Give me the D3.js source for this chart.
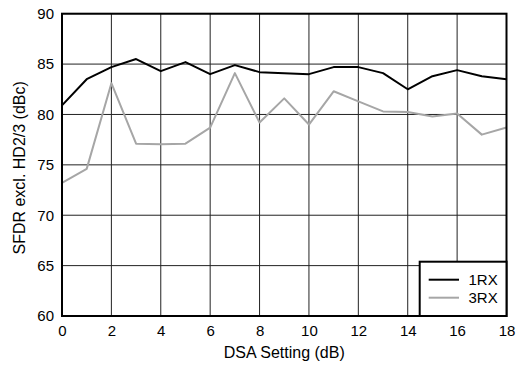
<!DOCTYPE html>
<html><head><meta charset="utf-8">
<script src="https://cdn.jsdelivr.net/npm/d3@7"></script>
<style>body{margin:0;background:#fff}svg{display:block}text{font-family:"Liberation Sans",Arial,sans-serif;fill:#000}</style>
</head><body><svg id="c" width="517" height="365"></svg>
<script>
const dsa = [0,1,2,3,4,5,6,7,8,9,10,11,12,13,14,15,16,17,18];
const rx1 = [80.9,83.5,84.7,85.5,84.3,85.2,84.0,84.9,84.2,84.1,84.0,84.7,84.7,84.1,82.5,83.8,84.4,83.8,83.5];
const rx3 = [73.2,74.6,83.1,77.1,77.05,77.1,78.7,84.1,79.2,81.6,79.0,82.3,81.3,80.3,80.25,79.8,80.1,78.0,78.7];
const xTicks = [0,2,4,6,8,10,12,14,16,18];
const yTicks = [60,65,70,75,80,85,90];
const seriesNames = ["1RX","3RX"];
const colors = ["#000000","#a6a6a6"];

const svg = d3.select("#c");
const L=62, R=506.5, T=13.7, B=316;
const x = d3.scaleLinear().domain([0,18]).range([L,R]);
const y = d3.scaleLinear().domain([60,90]).range([B,T]);
const FS = 15;

const g = svg.append("g");
g.selectAll(".vx").data(xTicks).join("line")
 .attr("x1",d=>x(d)).attr("x2",d=>x(d)).attr("y1",T).attr("y2",B)
 .attr("stroke","#222").attr("stroke-width",1);
g.selectAll(".hy").data(yTicks).join("line")
 .attr("x1",L).attr("x2",R).attr("y1",d=>y(d)).attr("y2",d=>y(d))
 .attr("stroke","#222").attr("stroke-width",1);

const xa = svg.append("g").attr("transform",`translate(0,${B})`)
 .call(d3.axisBottom(x).tickValues(xTicks).tickSize(0).tickPadding(9));
const ya = svg.append("g").attr("transform",`translate(${L},0)`)
 .call(d3.axisLeft(y).tickValues(yTicks).tickSize(0).tickPadding(8));
[xa,ya].forEach(a=>{a.select(".domain").remove();a.selectAll("text").attr("font-size",FS).attr("font-family","Liberation Sans, Arial, sans-serif").attr("fill","#000");});

const line = d3.line().x((d,i)=>x(dsa[i])).y(d=>y(d));
[rx3,rx1].forEach((s,k)=>{
  svg.append("path").datum(s).attr("d",line).attr("fill","none")
   .attr("stroke",k===0?colors[1]:colors[0]).attr("stroke-width",2).attr("stroke-linejoin","round");
});

svg.append("rect").attr("x",L).attr("y",T).attr("width",R-L).attr("height",B-T)
 .attr("fill","none").attr("stroke","#000").attr("stroke-width",2);

const lg = svg.append("g");
lg.append("rect").attr("x",419.7).attr("y",261.7).attr("width",R-419.7).attr("height",B-261.7)
 .attr("fill","#fff").attr("stroke","#000").attr("stroke-width",2);
seriesNames.forEach((n,i)=>{
  const yy = 279.7 + i*18;
  lg.append("line").attr("x1",428.7).attr("x2",459).attr("y1",yy).attr("y2",yy)
   .attr("stroke",colors[i]).attr("stroke-width",2);
  lg.append("text").attr("x",468.5).attr("y",yy+5.3).attr("font-size",FS).text(n);
});

svg.append("text").attr("x",(L+R)/2).attr("y",358).attr("text-anchor","middle").attr("font-size",16).text("DSA Setting (dB)");
svg.append("text").attr("transform",`translate(25,${(T+B)/2+3}) rotate(-90)`).attr("text-anchor","middle").attr("font-size",16).text("SFDR excl. HD2/3 (dBc)");
</script></body></html>
